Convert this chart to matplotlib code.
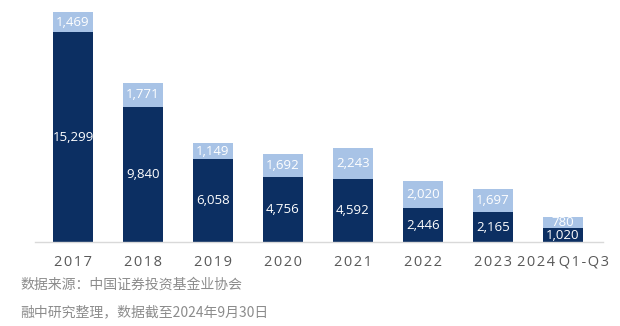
import matplotlib
matplotlib.use('Agg')
import matplotlib.pyplot as plt
import numpy as np

# 私募基金新备案 / 注销（只数），数据截至2024年9月30日
years = ['2017', '2018', '2019', '2020', '2021', '2022', '2023', '2024 Q1-Q3']
dark_vals = [15299, 9840, 6058, 4756, 4592, 2446, 2165, 1020]
light_vals = [1469, 1771, 1149, 1692, 2243, 2020, 1697, 780]

dark_col = '#0c2f62'
light_col = '#a8c3e6'

plt.rcParams['font.family'] = ['Open Sans', 'DejaVu Sans']

fig = plt.figure(figsize=(6.2, 3.26), dpi=100)
ax = fig.add_axes([35 / 620, 84 / 326, 568 / 620, 237 / 326])

x = np.arange(len(years))
w = 0.57
ax.bar(x, dark_vals, width=w, color=dark_col)
ax.bar(x, light_vals, width=w, bottom=dark_vals, color=light_col)

for i in range(len(years)):
    d = dark_vals[i]
    l = light_vals[i]
    ax.text(x[i], d / 2, f'{d:,}', ha='center', va='center', color='white', fontsize=9.5)
    ax.text(x[i], d + l / 2, f'{l:,}', ha='center', va='center', color='white', fontsize=9.5)

# slightly spaced-out year labels
labels = []
for y in years:
    labels.append(' '.join('\u200a'.join(part) for part in y.split(' ')))

ax.set_xlim(-0.543, 7.571)
ax.set_ylim(0, 17280)
ax.set_xticks(x)
ax.set_xticklabels(labels, color='#595959', fontsize=10.5)
ax.tick_params(axis='x', length=0, pad=9)
ax.set_yticks([])
for s in ['top', 'right', 'left']:
    ax.spines[s].set_visible(False)
ax.spines['bottom'].set_color('#d9d9d9')
ax.spines['bottom'].set_linewidth(1)

cjk = ['Noto Sans CJK SC', 'DejaVu Sans']
fig.text(20 / 620, 1 - 285 / 326, '数据来源：中国证券投资基金业协会', family=cjk,
         color='#8c8c8c', fontsize=10, va='center', ha='left')
fig.text(20 / 620, 1 - 312 / 326, '融中研究整理，数据截至2024年9月30日', family=cjk,
         color='#8c8c8c', fontsize=10, va='center', ha='left')

fig.savefig('out.png', dpi=100)
